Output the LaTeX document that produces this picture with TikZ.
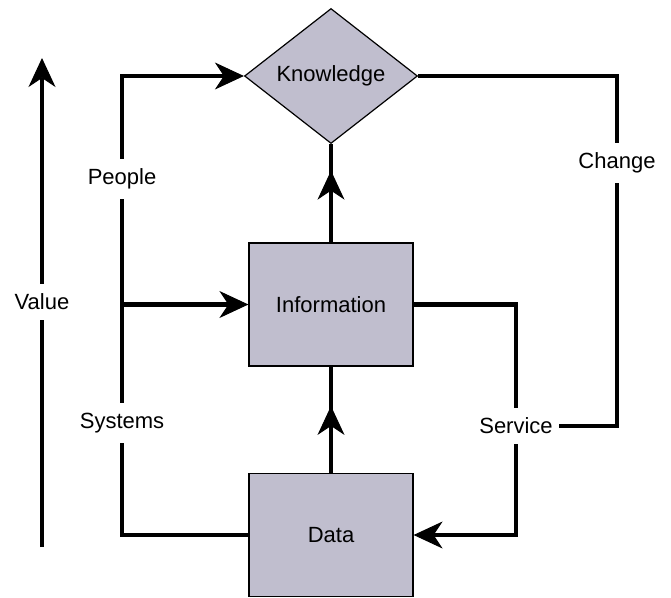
\documentclass[tikz,border=0pt]{standalone}
\usepackage{fontspec}
\setmainfont{Liberation Sans}
\usetikzlibrary{shapes.geometric,arrows.meta,decorations.markings}
\definecolor{boxfill}{RGB}{192,190,206}
\begin{document}
\begin{tikzpicture}[x=1pt,y=-1pt,
  font=\fontsize{22}{26}\selectfont,
  box/.style={draw, fill=boxfill, line width=1.2pt, minimum width=164pt, minimum height=123pt, inner sep=0pt},
  kbox/.style={draw, diamond, fill=boxfill, line width=1.2pt, minimum width=173pt, minimum height=135pt, inner sep=0pt},
  lbl/.style={inner xsep=6pt, inner ysep=10pt},
  flow/.style={line width=4.5pt, line join=miter},
  tip/.style={-{Stealth[length=29pt,width=27pt,inset=9pt,line width=1pt]}},
  midtip/.style={postaction={decorate}, decoration={markings, mark=at position #1 with {\arrow{Stealth[length=29pt,width=27pt,inset=9pt,line width=1pt]}}}}]
\useasboundingbox (0,0) rectangle (671,597);

\node[kbox] (know) at (331,76) {Knowledge};
\node[box] (info) at (331,304.5) {Information};
\node[box] (data) at (331,535) {Data};

\node[lbl] (value) at (42,302) {Value};
\node[lbl] (people) at (122,179) {People};
\node[lbl] (systems) at (122,423) {Systems};
\node[lbl] (change) at (617,163) {Change};
\node[lbl] (service) at (516,426) {Service};
\coordinate (vtop) at (42,58);
\coordinate (vbot) at (42,547);

% value scale
\path[draw,flow] (vbot) -- (value);
\path[draw,flow,tip] (value) -- (vtop);

% left loop
\path[draw,flow] (data.west) -- (people |- data.west) -- (systems);
\path[draw,flow] (systems) -- (people);
\path[draw,flow,tip] (people) -- (people |- know.west) -- (know.west);
\path[draw,flow,tip] (people |- info.west) -- (info.west);

% right loop
\path[draw,flow] (know.east) -- (change |- know.east) -- (change);
\path[draw,flow] (change) -- (change |- service) -- (service);
\path[draw,flow] (info.east) -- (service |- info.east) -- (service);
\path[draw,flow,tip] (service) -- (service |- data.east) -- (data.east);

% upward chain
\path[draw,flow,midtip=0.63] (data) -- (info);
\path[draw,flow,midtip=0.73] (info) -- (know);
\end{tikzpicture}
\end{document}
